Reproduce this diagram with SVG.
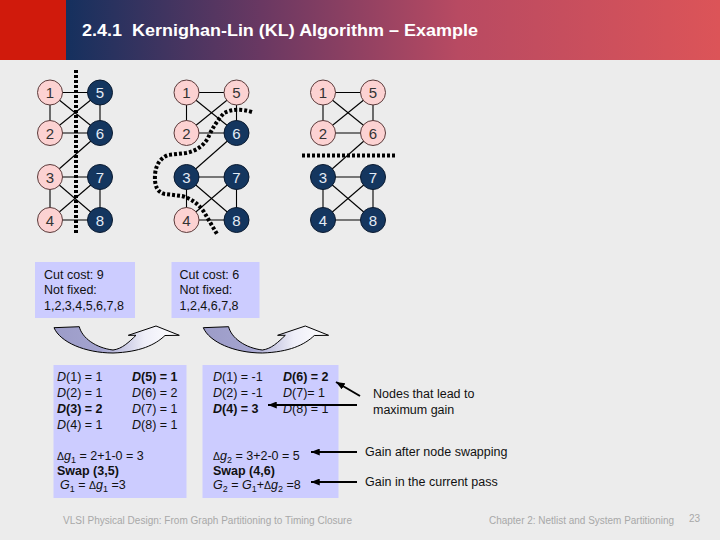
<svg xmlns="http://www.w3.org/2000/svg" width="720" height="540" viewBox="0 0 720 540">
<defs>
<linearGradient id="hdr" x1="66" y1="0" x2="720" y2="0" gradientUnits="userSpaceOnUse">
<stop offset="0" stop-color="#15305e"/>
<stop offset="0.3" stop-color="#6a3862"/>
<stop offset="0.6" stop-color="#b84a62"/>
<stop offset="1" stop-color="#dc5458"/>
</linearGradient>
<linearGradient id="cav" x1="0" y1="0" x2="1" y2="0">
<stop offset="0" stop-color="#9c9cc8"/>
<stop offset="0.38" stop-color="#a4a4cf"/>
<stop offset="0.72" stop-color="#eeeef8"/>
<stop offset="1" stop-color="#ffffff"/>
</linearGradient>
<marker id="ah" viewBox="0 0 10 8" refX="10" refY="4" markerWidth="9" markerHeight="7" orient="auto" markerUnits="userSpaceOnUse">
<path d="M0,0 L10,4 L0,8 Z" fill="#000"/>
</marker>
<style>
.pk{fill:#fcd2d2;stroke:#5a3a3a;stroke-width:1}
.nv{fill:#14365f;stroke:#0a1a30;stroke-width:1}
.tp{font-family:"Liberation Sans",Arial,sans-serif;font-size:15px;fill:#333;text-anchor:middle}
.tn{font-family:"Liberation Sans",Arial,sans-serif;font-size:15px;fill:#e4ecf6;text-anchor:middle}
.e{stroke:#000;stroke-width:1.1;fill:none}
.cut{stroke:#000;stroke-width:4;stroke-dasharray:3 2;fill:none}
.t{font-family:"Liberation Sans",Arial,sans-serif;font-size:12.5px;fill:#111}
.b{font-weight:bold}
.box{fill:#ccccff}
.ft{font-family:"Liberation Sans",Arial,sans-serif;font-size:10px;fill:#a8a8a8}
.ar{stroke:#000;stroke-width:2;fill:none;marker-end:url(#ah)}
.ca{fill:url(#cav);stroke:#000;stroke-width:1}
</style>
</defs>
<rect width="720" height="540" fill="#ececec"/>
<g id="header">
<rect x="0" y="0" width="720" height="60" fill="url(#hdr)"/>
<rect x="0" y="0" width="66" height="60" fill="#d01a0c"/>
<text x="82" y="36" font-family="'Liberation Sans Narrow','Liberation Sans',Arial,sans-serif" font-weight="bold" font-size="17" fill="#ffffff" textLength="396" lengthAdjust="spacingAndGlyphs" xml:space="preserve">2.4.1  Kernighan-Lin (KL) Algorithm – Example</text>
</g>
<g id="edges">
<g id="edges-g1">
<line class="e" x1="50" y1="92.5" x2="100" y2="92.5"/>
<line class="e" x1="50" y1="92.5" x2="50" y2="133"/>
<line class="e" x1="100" y1="92.5" x2="100" y2="133"/>
<line class="e" x1="50" y1="133" x2="100" y2="133"/>
<line class="e" x1="50" y1="92.5" x2="100" y2="133"/>
<line class="e" x1="50" y1="133" x2="100" y2="92.5"/>
<line class="e" x1="100" y1="133" x2="50" y2="177"/>
<line class="e" x1="50" y1="177" x2="100" y2="177"/>
<line class="e" x1="50" y1="177" x2="50" y2="220"/>
<line class="e" x1="100" y1="177" x2="100" y2="220"/>
<line class="e" x1="50" y1="220" x2="100" y2="220"/>
<line class="e" x1="50" y1="177" x2="100" y2="220"/>
<line class="e" x1="50" y1="220" x2="100" y2="177"/>
</g>
<g id="edges-g2" transform="translate(136.5,0)">
<line class="e" x1="50" y1="92.5" x2="100" y2="92.5"/>
<line class="e" x1="50" y1="92.5" x2="50" y2="133"/>
<line class="e" x1="100" y1="92.5" x2="100" y2="133"/>
<line class="e" x1="50" y1="133" x2="100" y2="133"/>
<line class="e" x1="50" y1="92.5" x2="100" y2="133"/>
<line class="e" x1="50" y1="133" x2="100" y2="92.5"/>
<line class="e" x1="100" y1="133" x2="50" y2="177"/>
<line class="e" x1="50" y1="177" x2="100" y2="177"/>
<line class="e" x1="50" y1="177" x2="50" y2="220"/>
<line class="e" x1="100" y1="177" x2="100" y2="220"/>
<line class="e" x1="50" y1="220" x2="100" y2="220"/>
<line class="e" x1="50" y1="177" x2="100" y2="220"/>
<line class="e" x1="50" y1="220" x2="100" y2="177"/>
</g>
<g id="edges-g3" transform="translate(273,0)">
<line class="e" x1="50" y1="92.5" x2="100" y2="92.5"/>
<line class="e" x1="50" y1="92.5" x2="50" y2="133"/>
<line class="e" x1="100" y1="92.5" x2="100" y2="133"/>
<line class="e" x1="50" y1="133" x2="100" y2="133"/>
<line class="e" x1="50" y1="92.5" x2="100" y2="133"/>
<line class="e" x1="50" y1="133" x2="100" y2="92.5"/>
<line class="e" x1="100" y1="133" x2="50" y2="177"/>
<line class="e" x1="50" y1="177" x2="100" y2="177"/>
<line class="e" x1="50" y1="177" x2="50" y2="220"/>
<line class="e" x1="100" y1="177" x2="100" y2="220"/>
<line class="e" x1="50" y1="220" x2="100" y2="220"/>
<line class="e" x1="50" y1="177" x2="100" y2="220"/>
<line class="e" x1="50" y1="220" x2="100" y2="177"/>
</g>
</g>
<g id="cuts">
<path class="cut" d="M76,70 L76,234"/>
<path class="cut" d="M252,112 Q236,107 224,113 Q214,124 208,138 Q201,150 186,153 L168,155 Q156,160 155,175 Q154,192 165,194 L182,196 Q196,200 204,212 L217,234"/>
<path class="cut" d="M302,155.5 L396,155.5"/>
</g>
<g id="graph1">
<g id="g1-n1"><circle class="pk" cx="50" cy="92.5" r="12.5"/><text class="tp" x="50" y="98">1</text></g>
<g id="g1-n2"><circle class="pk" cx="50" cy="133" r="12.5"/><text class="tp" x="50" y="138.5">2</text></g>
<g id="g1-n3"><circle class="pk" cx="50" cy="177" r="12.5"/><text class="tp" x="50" y="182.5">3</text></g>
<g id="g1-n4"><circle class="pk" cx="50" cy="220" r="12.5"/><text class="tp" x="50" y="225.5">4</text></g>
<g id="g1-n5"><circle class="nv" cx="100" cy="92.5" r="12.5"/><text class="tn" x="100" y="98">5</text></g>
<g id="g1-n6"><circle class="nv" cx="100" cy="133" r="12.5"/><text class="tn" x="100" y="138.5">6</text></g>
<g id="g1-n7"><circle class="nv" cx="100" cy="177" r="12.5"/><text class="tn" x="100" y="182.5">7</text></g>
<g id="g1-n8"><circle class="nv" cx="100" cy="220" r="12.5"/><text class="tn" x="100" y="225.5">8</text></g>
</g>
<g id="graph2">
<g id="g2-n1"><circle class="pk" cx="186.5" cy="92.5" r="12.5"/><text class="tp" x="186.5" y="98">1</text></g>
<g id="g2-n2"><circle class="pk" cx="186.5" cy="133" r="12.5"/><text class="tp" x="186.5" y="138.5">2</text></g>
<g id="g2-n3"><circle class="nv" cx="186.5" cy="177" r="12.5"/><text class="tn" x="186.5" y="182.5">3</text></g>
<g id="g2-n4"><circle class="pk" cx="186.5" cy="220" r="12.5"/><text class="tp" x="186.5" y="225.5">4</text></g>
<g id="g2-n5"><circle class="pk" cx="236.5" cy="92.5" r="12.5"/><text class="tp" x="236.5" y="98">5</text></g>
<g id="g2-n6"><circle class="nv" cx="236.5" cy="133" r="12.5"/><text class="tn" x="236.5" y="138.5">6</text></g>
<g id="g2-n7"><circle class="nv" cx="236.5" cy="177" r="12.5"/><text class="tn" x="236.5" y="182.5">7</text></g>
<g id="g2-n8"><circle class="nv" cx="236.5" cy="220" r="12.5"/><text class="tn" x="236.5" y="225.5">8</text></g>
</g>
<g id="graph3">
<g id="g3-n1"><circle class="pk" cx="323" cy="92.5" r="12.5"/><text class="tp" x="323" y="98">1</text></g>
<g id="g3-n2"><circle class="pk" cx="323" cy="133" r="12.5"/><text class="tp" x="323" y="138.5">2</text></g>
<g id="g3-n3"><circle class="nv" cx="323" cy="177" r="12.5"/><text class="tn" x="323" y="182.5">3</text></g>
<g id="g3-n4"><circle class="nv" cx="323" cy="220" r="12.5"/><text class="tn" x="323" y="225.5">4</text></g>
<g id="g3-n5"><circle class="pk" cx="373" cy="92.5" r="12.5"/><text class="tp" x="373" y="98">5</text></g>
<g id="g3-n6"><circle class="pk" cx="373" cy="133" r="12.5"/><text class="tp" x="373" y="138.5">6</text></g>
<g id="g3-n7"><circle class="nv" cx="373" cy="177" r="12.5"/><text class="tn" x="373" y="182.5">7</text></g>
<g id="g3-n8"><circle class="nv" cx="373" cy="220" r="12.5"/><text class="tn" x="373" y="225.5">8</text></g>
</g>
<g id="box-cut1">
<rect class="box" x="35" y="262" width="100" height="56"/>
<text class="t" x="44" y="278.5">Cut cost: 9</text>
<text class="t" x="44" y="294">Not fixed:</text>
<text class="t" x="44" y="309.5">1,2,3,4,5,6,7,8</text>
</g>
<g id="box-cut2">
<rect class="box" x="171.5" y="262" width="88" height="56"/>
<text class="t" x="179.5" y="278.5">Cut cost: 6</text>
<text class="t" x="179.5" y="294">Not fixed:</text>
<text class="t" x="179.5" y="309.5">1,2,4,6,7,8</text>
</g>
<g id="curved-arrows">
<path id="ca1" class="ca" d="M54,327.7 L79.3,326.7 C82,338 96,348 113,350 C122,349 129,342 136,335.3 L128.3,335.3 L156,326 L179.3,335.3 L165,335.5 C155,345 140,352 113,353 C85,353 60,342 54,327.7 Z"/>
<path id="ca2" class="ca" transform="translate(149.3,0)" d="M54,327.7 L79.3,326.7 C82,338 96,348 113,350 C122,349 129,342 136,335.3 L128.3,335.3 L156,326 L179.3,335.3 L165,335.5 C155,345 140,352 113,353 C85,353 60,342 54,327.7 Z"/>
</g>
<g id="box-pass1">
<rect class="box" x="53.5" y="365" width="133" height="133"/>
<text class="t" x="57" y="381"><tspan font-style="italic">D</tspan>(1) = 1</text>
<text class="t b" x="132" y="381"><tspan font-style="italic">D</tspan>(5) = 1</text>
<text class="t" x="57" y="397"><tspan font-style="italic">D</tspan>(2) = 1</text>
<text class="t" x="132" y="397"><tspan font-style="italic">D</tspan>(6) = 2</text>
<text class="t b" x="57" y="412.5"><tspan font-style="italic">D</tspan>(3) = 2</text>
<text class="t" x="132" y="412.5"><tspan font-style="italic">D</tspan>(7) = 1</text>
<text class="t" x="57" y="428.5"><tspan font-style="italic">D</tspan>(4) = 1</text>
<text class="t" x="132" y="428.5"><tspan font-style="italic">D</tspan>(8) = 1</text>
<text class="t" x="57" y="460"><tspan font-size="10.5">Δ</tspan><tspan font-style="italic">g</tspan><tspan font-size="9" dy="3">1</tspan><tspan dy="-3"> = 2+1-0 = 3</tspan></text>
<text class="t b" x="57" y="475">Swap (3,5)</text>
<text class="t" x="60" y="489"><tspan font-style="italic">G</tspan><tspan font-size="9" dy="3">1</tspan><tspan dy="-3"> = </tspan><tspan font-size="10.5">Δ</tspan><tspan font-style="italic">g</tspan><tspan font-size="9" dy="3">1</tspan><tspan dy="-3"> =3</tspan></text>
</g>
<g id="box-pass2">
<rect class="box" x="202.5" y="365" width="136" height="133"/>
<text class="t" x="213" y="381"><tspan font-style="italic">D</tspan>(1) = -1</text>
<text class="t b" x="283" y="381"><tspan font-style="italic">D</tspan>(6) = 2</text>
<text class="t" x="213" y="397"><tspan font-style="italic">D</tspan>(2) = -1</text>
<text class="t" x="283" y="397"><tspan font-style="italic">D</tspan>(7)= 1</text>
<text class="t b" x="213" y="412.5"><tspan font-style="italic">D</tspan>(4) = 3</text>
<text class="t" x="283" y="412.5"><tspan font-style="italic">D</tspan>(8) = 1</text>
<text class="t" x="213" y="460"><tspan font-size="10.5">Δ</tspan><tspan font-style="italic">g</tspan><tspan font-size="9" dy="3">2</tspan><tspan dy="-3"> = 3+2-0 = 5</tspan></text>
<text class="t b" x="213" y="475">Swap (4,6)</text>
<text class="t" x="213" y="489"><tspan font-style="italic">G</tspan><tspan font-size="9" dy="3">2</tspan><tspan dy="-3"> = </tspan><tspan font-style="italic">G</tspan><tspan font-size="9" dy="3">1</tspan><tspan dy="-3">+</tspan><tspan font-size="10.5">Δ</tspan><tspan font-style="italic">g</tspan><tspan font-size="9" dy="3">2</tspan><tspan dy="-3"> =8</tspan></text>
</g>
<g id="connectors">
<path class="ar" d="M360,396 L336,382"/>
<path class="ar" d="M357,405 L268,405"/>
<path class="ar" d="M357,452 L311,452"/>
<path class="ar" d="M357,482 L311,482"/>
</g>
<g id="annotations">
<text class="t" x="373" y="397.5">Nodes that lead to</text>
<text class="t" x="373" y="413.5">maximum gain</text>
<text class="t" x="365" y="455.5">Gain after node swapping</text>
<text class="t" x="365" y="485.5">Gain in the current pass</text>
</g>
<g id="footer">
<text class="ft" x="63" y="524" textLength="289" lengthAdjust="spacingAndGlyphs">VLSI Physical Design: From Graph Partitioning to Timing Closure</text>
<text class="ft" x="489" y="524" textLength="185" lengthAdjust="spacingAndGlyphs">Chapter 2: Netlist and System Partitioning</text>
<text class="ft" x="689" y="522">23</text>
</g>
</svg>
